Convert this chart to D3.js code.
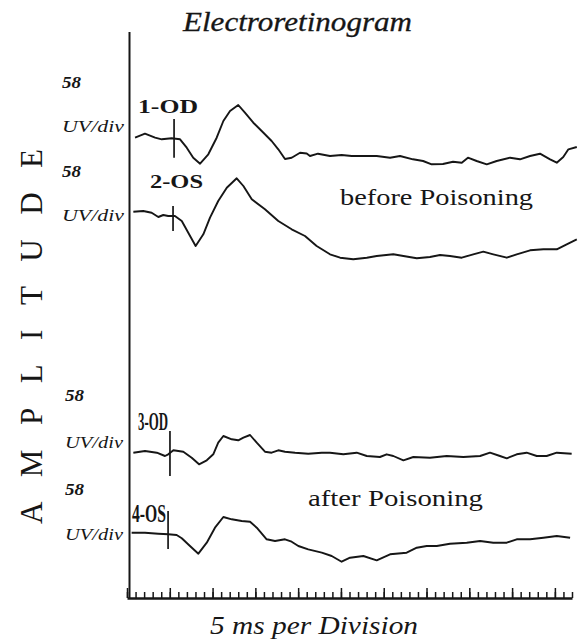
<!DOCTYPE html>
<html>
<head>
<meta charset="utf-8">
<script src="https://cdn.jsdelivr.net/npm/d3@7"></script>
<style>
  html, body { margin: 0; padding: 0; background: #fff; }
  svg { display: block; }
</style>
</head>
<body>
<svg id="chart" width="581" height="643"></svg>
<script>
// ---------------- DATA (time in ms, amplitude relative to each trace's baseline) ----------------
const traceNames = ["1-OD", "2-OS", "3-OD", "4-OS"];
const groupLabels = ["before Poisoning", "after Poisoning"];
const scaleLabel = "58";
const unitLabel = "UV/div";

const t1 = [[4.7,0.3],[10.5,4.3],[16.4,0.3],[20.3,-1.3],[26.1,-0.3],[31.0,-1.3],[34.9,-9.7],[38.7,-19.7],[42.7,-25.7],[47.5,-16.3],[52.4,0.3],[56.3,17],[60.2,27],[65.0,33],[68.9,25.3],[73.8,15.3],[78.7,7],[84.5,-3],[88.4,-11.3],[92.3,-21],[96.2,-19.7],[101.1,-14.7],[105.0,-15.5],[106.9,-18],[111.6,-15.7],[118.6,-18],[125.4,-17],[131.3,-18],[137.9,-18],[145.9,-18],[153.7,-19.7],[159.5,-18],[167.1,-21.3],[173.0,-23],[178.0,-26.3],[184.6,-26],[190.5,-23.7],[195.6,-24.7],[199.2,-19.7],[204.3,-23],[210.2,-26.3],[216.0,-23],[223.8,-19.7],[229.6,-21.3],[235.5,-18],[241.3,-15.7],[247.2,-21.3],[251.1,-24.7],[254.9,-19],[257.9,-11.3],[262.8,-9]];
const t2 = [[3.7,0.3],[9.5,1],[14.4,-0.7],[18.3,-5],[21.2,-3],[24.1,-4],[28.0,-4],[32.0,-9],[35.8,-20.7],[40.1,-34],[44.6,-22.3],[48.5,-5.7],[53.3,11],[58.3,24.3],[64.1,33.7],[68.0,26],[72.9,12.7],[80.6,2.7],[88.4,-9],[96.2,-17.3],[104.0,-24],[110.8,-34],[118.6,-42.3],[124.5,-45.7],[132.2,-47.3],[140.1,-45.7],[145.9,-44],[155.6,-42.3],[161.5,-44],[169.3,-46.3],[177.0,-45],[182.9,-43],[188.7,-44],[195.6,-45.7],[202.3,-42.3],[208.2,-39.7],[214.0,-42.3],[221.9,-45.7],[227.7,-42.3],[235.5,-38.3],[243.3,-37.3],[251.1,-37.3],[256.9,-32.3],[262.8,-27.3]];
const t3 = [[3.7,-0.7],[10.5,1],[17.4,-0.7],[22.2,-4],[24.1,-2.3],[27.1,1.7],[32.9,0.3],[37.8,-5.7],[42.1,-12.3],[46.6,-8.3],[50.4,-2.3],[53.3,9.3],[56.3,16],[61.2,12.7],[65.0,11.7],[68.0,14.3],[71.9,17],[75.8,9.3],[80.6,0.3],[84.5,-0.7],[88.4,1.7],[92.3,0.3],[98.2,-0.7],[105.9,-1.7],[113.8,-0.7],[118.6,-0.7],[126.4,-2.3],[134.2,-0.7],[140.1,-4],[147.8,-5],[151.7,-2.3],[155.6,-4],[161.5,-8.3],[167.3,-5],[177.0,-5.7],[186.8,-4],[196.5,-5],[206.3,-4],[212.1,-0.7],[217.9,-4],[221.9,-6.3],[227.7,-2.3],[233.5,-0.7],[239.4,-4],[245.2,-4],[251.1,-0.7],[259.8,-1.7]];
const t4 = [[2.7,0.3],[10.5,0.3],[18.3,-0.7],[24.1,-1.3],[29.0,-2],[32.0,-5.3],[36.8,-13],[41.7,-20.7],[46.6,-9.7],[51.4,5.3],[56.3,16],[61.2,13.7],[67.0,12],[71.9,11.3],[75.8,5.3],[81.6,-6.3],[86.5,-8],[92.3,-6.3],[96.2,-8.7],[100.1,-13],[105.9,-16.3],[113.8,-19.7],[119.6,-23],[125.4,-28.7],[130.3,-24.7],[138.1,-23],[145.9,-27.3],[153.7,-21.3],[163.4,-19.7],[169.3,-14.7],[175.1,-13],[181.0,-13],[188.7,-10.7],[198.5,-9.7],[206.3,-8],[214.0,-9.7],[221.9,-9.7],[227.7,-6.3],[235.5,-6.3],[243.3,-4.7],[251.1,-3],[258.9,-4.7]];
const traces = [t1, t2, t3, t4];
const baselines = [460, 386, 146, 65];            // vertical offset of each trace (amplitude units)
const stimulusTimes = [27.5, 26.9, 25.1, 24.0];   // stimulus marker (ms)
const stimulusSpan = [[19, -19.7], [6, -19], [21, -24], [22, -16]];
const timeDomain = [0, 260];
const minorStep = 5, majorStep = 25;

// ---------------- SCALES ----------------
const svg = d3.select("#chart");
const ink = "#161616";
const serif = "'Liberation Serif', 'Times New Roman', serif";
const x = d3.scaleLinear().domain(timeDomain).range([127, 572]);
const y = d3.scaleLinear().domain([0, 570]).range([598, 28]);

// ---------------- AXES ----------------
const minorTicks = d3.range(timeDomain[0], timeDomain[1] + 0.01, minorStep);
const majorTicks = minorTicks.filter(v => v % majorStep === 0);

const gx = svg.append("g").attr("transform", `translate(0,${y(0)})`);
gx.call(d3.axisBottom(x).tickValues(minorTicks).tickSize(-6).tickSizeOuter(0).tickFormat(""));
const gx2 = svg.append("g").attr("transform", `translate(0,${y(0)})`);
gx2.call(d3.axisBottom(x).tickValues(majorTicks).tickSize(-10).tickSizeOuter(0).tickFormat(""));
gx2.select(".domain").remove();
svg.selectAll(".tick line").attr("stroke", ink).attr("stroke-width", 1.5);
gx.select(".domain").attr("stroke", ink).attr("stroke-width", 2.4);

// vertical axis line
svg.append("line")
  .attr("x1", 129.5).attr("x2", 129.5)
  .attr("y1", 32).attr("y2", y(0) + 1)
  .attr("stroke", ink).attr("stroke-width", 2);

// ---------------- TRACES ----------------
const line = (off) => d3.line()
  .x(d => x(d[0]))
  .y(d => y(off + d[1]))
  .curve(d3.curveLinear);

traces.forEach((tr, i) => {
  svg.append("path")
    .datum(tr)
    .attr("d", line(baselines[i]))
    .attr("fill", "none")
    .attr("stroke", ink)
    .attr("stroke-width", 1.9)
    .attr("stroke-linejoin", "round");
  svg.append("line")
    .attr("x1", x(stimulusTimes[i])).attr("x2", x(stimulusTimes[i]))
    .attr("y1", y(baselines[i] + stimulusSpan[i][0]))
    .attr("y2", y(baselines[i] + stimulusSpan[i][1]))
    .attr("stroke", ink).attr("stroke-width", 1.7);
});

// ---------------- TEXT ----------------
svg.append("text")
  .attr("x", 183).attr("y", 31)
  .attr("font-family", serif).attr("font-style", "italic")
  .attr("font-size", 27).attr("fill", ink)
  .attr("stroke", ink).attr("stroke-width", 0.3)
  .attr("textLength", 229).attr("lengthAdjust", "spacingAndGlyphs")
  .text("Electroretinogram");

svg.append("text")
  .attr("x", 210).attr("y", 634)
  .attr("font-family", serif).attr("font-style", "italic")
  .attr("font-size", 25).attr("fill", ink)
  .attr("textLength", 208).attr("lengthAdjust", "spacingAndGlyphs")
  .text("5 ms per Division");

svg.append("text")
  .attr("transform", "translate(42,524) rotate(-90)")
  .attr("font-family", serif)
  .attr("font-size", 31).attr("fill", ink)
  .attr("textLength", 375).attr("lengthAdjust", "spacing")
  .text("AMPLITUDE");

// scale labels
const scalePos = [[62, 88, 132, 62], [62, 177, 221, 62], [65, 401, 448, 58], [65, 495, 540, 58]];
scalePos.forEach(p => {
  svg.append("text")
    .attr("x", p[0]).attr("y", p[1])
    .attr("font-family", serif).attr("font-style", "italic").attr("font-weight", "bold")
    .attr("font-size", 16).attr("fill", ink)
    .attr("textLength", 19).attr("lengthAdjust", "spacingAndGlyphs")
    .text(scaleLabel);
  svg.append("text")
    .attr("x", p[0]).attr("y", p[2])
    .attr("font-family", serif).attr("font-style", "italic")
    .attr("font-size", 17).attr("fill", ink)
    .attr("textLength", p[3]).attr("lengthAdjust", "spacingAndGlyphs")
    .text(unitLabel);
});

// trace name labels
const namePos = [[138, 113, 60, 18], [150, 188, 53, 18], [138, 430, 30, 25], [132, 522, 34, 25]];
traceNames.forEach((n, i) => {
  const p = namePos[i];
  svg.append("text")
    .attr("x", p[0]).attr("y", p[1])
    .attr("font-family", serif).attr("font-weight", "bold")
    .attr("font-size", p[3]).attr("fill", ink)
    .attr("textLength", p[2]).attr("lengthAdjust", "spacingAndGlyphs")
    .text(n);
});

// group labels
svg.append("text")
  .attr("x", 340).attr("y", 205)
  .attr("font-family", serif).attr("font-size", 23).attr("fill", ink)
  .attr("textLength", 193).attr("lengthAdjust", "spacingAndGlyphs")
  .text(groupLabels[0]);
svg.append("text")
  .attr("x", 308).attr("y", 506)
  .attr("font-family", serif).attr("font-size", 23).attr("fill", ink)
  .attr("textLength", 175).attr("lengthAdjust", "spacingAndGlyphs")
  .text(groupLabels[1]);
</script>
</body>
</html>
